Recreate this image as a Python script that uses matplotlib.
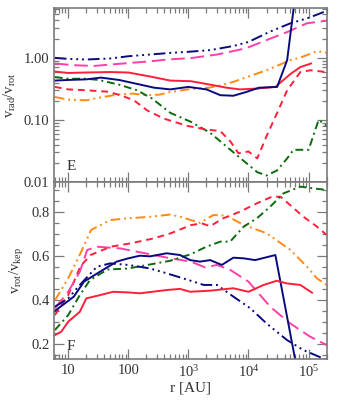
"""
Radial / rotational velocity profiles, panels E and F"""

import numpy as np
import matplotlib.pyplot as plt
from matplotlib.ticker import FixedLocator, MultipleLocator, NullFormatter, FixedFormatter, LogLocator

plt.rcParams['font.family'] = ['Liberation Serif', 'DejaVu Serif']
plt.rcParams['mathtext.fontset'] = 'custom'
plt.rcParams['mathtext.rm'] = 'Liberation Serif'
plt.rcParams['mathtext.it'] = 'Liberation Serif:italic'

# ---- panel E : v_rad / v_rot ----
E_NAVY_DD_R = [6, 10, 20, 50, 100, 230, 500, 1000, 2300, 5600, 1e4, 2.2e4, 5e4, 1e5, 2e5]
E_NAVY_DD_V = [1.0, 0.96, 0.94, 0.975, 1.06, 1.13, 1.2, 1.25, 1.33, 1.55, 1.8, 2.6, 3.6, 4.4, 5.7]

E_PINK_R = [6, 12.4, 27, 70, 240, 450, 1100, 3000, 9000, 2e4, 4.4e4, 9.4e4, 2e5]
E_PINK_V = [0.81, 0.76, 0.74, 0.80, 0.88, 0.94, 0.99, 1.13, 1.42, 1.93, 2.6, 3.6, 3.95]

E_RED_R = [6, 10, 20, 50, 100, 230, 500, 1100, 2300, 4300, 7200, 1.4e4, 2.8e4, 5e4, 7.3e4, 1.1e5]
E_RED_V = [0.60, 0.57, 0.58, 0.59, 0.58, 0.50, 0.43, 0.42, 0.37, 0.33, 0.31, 0.32, 0.34, 0.55, 0.71, 0.81]

E_NAVY_R = [6, 10, 20, 35, 70, 140, 270, 500, 1000, 2000, 3400, 5600, 9000, 1.5e4, 3e4, 4.4e4, 6e4]
E_NAVY_V = [0.43, 0.44, 0.45, 0.48, 0.44, 0.38, 0.33, 0.31, 0.34, 0.31, 0.25, 0.245, 0.28, 0.33, 0.34, 0.92, 10.0]

E_GREEN_R = [6, 10, 20, 32, 70, 140, 250, 500, 1100, 2300, 5000, 9300, 1.4e4, 2e4, 3e4, 4.4e4, 5.6e4, 1e5, 1.47e5, 2e5]
E_GREEN_V = [0.49, 0.46, 0.46, 0.44, 0.37, 0.30, 0.22, 0.13, 0.093, 0.062, 0.033, 0.020, 0.0144, 0.0127,
             0.0154, 0.024, 0.033, 0.033, 0.10, 0.08]

E_REDDASH_R = [6, 10, 20, 45, 74, 124, 207, 390, 960, 2000, 3400, 5000, 6800, 1e4, 1.4e4, 2e4, 3e4, 4.4e4,
               7.3e4, 1.07e5, 2e5]
E_REDDASH_V = [0.34, 0.31, 0.30, 0.285, 0.25, 0.207, 0.142, 0.105, 0.08, 0.070, 0.066, 0.045, 0.029, 0.031,
               0.024, 0.055, 0.13, 0.30, 0.59, 0.63, 0.59]

E_ORANGE_R = [6, 10, 20, 33, 64, 120, 200, 330, 500, 1000, 2200, 3400, 5600, 1.4e4, 2e4, 5e4, 7.3e4, 1.4e5, 2e5]
E_ORANGE_V = [0.234, 0.212, 0.207, 0.228, 0.255, 0.265, 0.25, 0.255, 0.282, 0.311, 0.33, 0.36, 0.41, 0.56,
              0.63, 0.92, 1.01, 1.28, 1.2]

# ---- panel F : v_rot / v_kep ----
F_ORANGE_R = [6, 10, 16, 24, 50, 100, 230, 500, 730, 1100, 1560, 2600, 4300, 8000, 2e4, 5e4, 9.4e4, 1.38e5, 2e5]
F_ORANGE_V = [0.40, 0.50, 0.614, 0.72, 0.765, 0.773, 0.78, 0.79, 0.78, 0.765, 0.752, 0.788, 0.785, 0.745,
              0.705, 0.629, 0.553, 0.50, 0.47]

F_REDDASH_R = [6, 10, 16, 23.5, 51, 109, 267, 508, 1100, 1670, 2300, 3800, 7200, 1.38e4, 2.45e4, 3.4e4,
               4.95e4, 8.2e4, 1.38e5, 2e5]
F_REDDASH_V = [0.333, 0.424, 0.555, 0.606, 0.644, 0.659, 0.682, 0.705, 0.742, 0.75, 0.737, 0.773, 0.803,
               0.841, 0.871, 0.871, 0.833, 0.78, 0.735, 0.697]

F_PINK_R = [6, 10, 15.6, 20.7, 30, 74, 141, 267, 508, 1100, 1900, 3000, 5000, 1e4, 2.3e4, 4.95e4, 1.06e5, 2e5]
F_PINK_V = [0.364, 0.439, 0.53, 0.629, 0.644, 0.636, 0.621, 0.606, 0.591, 0.576, 0.55, 0.561, 0.538, 0.485,
            0.371, 0.295, 0.235, 0.197]

F_NAVY_R = [5.8, 9.6, 12.4, 18.3, 33.7, 64, 100, 156, 230, 435, 726, 1070, 1560, 2300, 3600, 5600, 8300,
            1.29e4, 2.8e4, 6e4]
F_NAVY_V = [0.349, 0.394, 0.417, 0.485, 0.53, 0.576, 0.591, 0.603, 0.60, 0.614, 0.606, 0.583, 0.576, 0.583,
            0.561, 0.594, 0.591, 0.583, 0.606, 0.129]

F_NAVY_DD_R = [6, 10, 15.6, 30, 50, 100, 230, 435, 1070, 1800, 3000, 5600, 1.07e4, 2e4, 4.35e4, 8.2e4, 2e5]
F_NAVY_DD_V = [0.371, 0.409, 0.47, 0.553, 0.568, 0.561, 0.545, 0.523, 0.49, 0.47, 0.47, 0.417, 0.364, 0.295,
               0.22, 0.174, 0.129]

F_GREEN_R = [6, 10, 15.6, 23, 45, 100, 250, 500, 1100, 2000, 3400, 4950, 8300, 1.38e4, 2.3e4, 3.8e4, 7.3e4,
             1.2e5, 2e5]
F_GREEN_V = [0.265, 0.333, 0.424, 0.492, 0.54, 0.545, 0.565, 0.58, 0.61, 0.644, 0.667, 0.667, 0.735, 0.773,
             0.826, 0.886, 0.917, 0.909, 0.902]

F_RED_R = [6, 7.7, 10, 15.6, 20, 34, 56, 100, 156, 435, 726, 1070, 2300, 5600, 1e4, 1.78e4, 2.96e4, 4.35e4,
           7.3e4, 1.14e5]
F_RED_V = [0.242, 0.258, 0.303, 0.348, 0.409, 0.424, 0.439, 0.436, 0.432, 0.447, 0.452, 0.439, 0.444, 0.455,
           0.439, 0.47, 0.489, 0.477, 0.47, 0.435]

NAVY = '#0a0a80'
PINK = '#ff3fa6'
RED = '#ff1f3a'
ORANGE = '#ff8a14'
GREEN = '#0d6b0d'
FRAME = '#7a7a7a'
TEXT = '#333333'

DD = (0, (6, 2, 1, 2, 1, 2, 1, 2))
LONGDASH = (0, (7, 3))
SHORTDASH = (0, (3.5, 2.5))
DASHDOTDOT = (0, (5, 2, 1, 2, 1, 2))
DASHDOT = (0, (4, 2, 1, 2))

LW = 1.4


def style_axis(ax):
    for s in ax.spines.values():
        s.set_color(FRAME)
        s.set_linewidth(1.2)
    ax.tick_params(which='both', direction='in', top=True, right=True, color=FRAME, labelcolor=TEXT,
                   labelsize=10.5, width=0.9)
    ax.tick_params(which='major', length=7)
    ax.tick_params(which='minor', length=3.5)


fig = plt.figure(figsize=(3.41, 4.09), dpi=100)
ax1 = fig.add_axes([0.159, 0.555, 0.799, 0.425])
ax2 = fig.add_axes([0.159, 0.1215, 0.799, 0.4335], sharex=ax1)

ax1.plot(E_NAVY_DD_R, E_NAVY_DD_V, color=NAVY, lw=LW, linestyle=DD)
ax1.plot(E_PINK_R, E_PINK_V, color=PINK, lw=LW, linestyle=LONGDASH)
ax1.plot(E_ORANGE_R, E_ORANGE_V, color=ORANGE, lw=LW, linestyle=DASHDOTDOT)
ax1.plot(E_GREEN_R, E_GREEN_V, color=GREEN, lw=LW, linestyle=DASHDOT)
ax1.plot(E_REDDASH_R, E_REDDASH_V, color=RED, lw=LW, linestyle=SHORTDASH)
ax1.plot(E_RED_R, E_RED_V, color=RED, lw=LW)
ax1.plot(E_NAVY_R, E_NAVY_V, color=NAVY, lw=LW)

ax2.plot(F_ORANGE_R, F_ORANGE_V, color=ORANGE, lw=LW, linestyle=DASHDOTDOT)
ax2.plot(F_REDDASH_R, F_REDDASH_V, color=RED, lw=LW, linestyle=SHORTDASH)
ax2.plot(F_PINK_R, F_PINK_V, color=PINK, lw=LW, linestyle=LONGDASH)
ax2.plot(F_GREEN_R, F_GREEN_V, color=GREEN, lw=LW, linestyle=DASHDOT)
ax2.plot(F_NAVY_DD_R, F_NAVY_DD_V, color=NAVY, lw=LW, linestyle=DD)
ax2.plot(F_NAVY_R, F_NAVY_V, color=NAVY, lw=LW)
ax2.plot(F_RED_R, F_RED_V, color=RED, lw=LW)

ax1.set_xscale('log')
ax1.set_yscale('log')
ax1.set_xlim(5.85, 2.0e5)
ax1.set_ylim(0.01, 6.3)
ax2.set_ylim(0.132, 0.938)

for ax in (ax1, ax2):
    style_axis(ax)

ax1.yaxis.set_major_locator(FixedLocator([0.01, 0.1, 1.0]))
ax1.yaxis.set_major_formatter(FixedFormatter(['0.01', '0.10', '1.00']))
ax1.yaxis.set_minor_locator(LogLocator(base=10, subs=np.arange(2, 10)))
ax1.yaxis.set_minor_formatter(NullFormatter())
ax1.tick_params(labelbottom=False)

ax2.yaxis.set_major_locator(MultipleLocator(0.2))
ax2.yaxis.set_minor_locator(MultipleLocator(0.05))
ax2.yaxis.set_major_formatter(plt.FuncFormatter(lambda v, p: f'{v:.1f}'))

ax2.xaxis.set_major_locator(FixedLocator([10, 100, 1e3, 1e4, 1e5]))
ax2.xaxis.set_major_formatter(FixedFormatter(['10', '100', '$10^3$', '$10^4$', '$10^5$']))
ax2.xaxis.set_minor_locator(LogLocator(base=10, subs=np.arange(2, 10)))
ax2.xaxis.set_minor_formatter(NullFormatter())

ax1.set_ylabel(r'$\mathrm{v_{rad}/v_{rot}}$', color=TEXT, fontsize=10.5, labelpad=4)
ax2.set_ylabel(r'$\mathrm{v_{rot}/v_{kep}}$', color=TEXT, fontsize=10.5, labelpad=4)
ax2.set_xlabel('r [AU]', color=TEXT, fontsize=11, labelpad=1)

ax1.text(0.045, 0.07, 'E', transform=ax1.transAxes, color=TEXT, fontsize=11)
ax2.text(0.045, 0.05, 'F', transform=ax2.transAxes, color=TEXT, fontsize=11)

plt.savefig('out.png', dpi=100)
